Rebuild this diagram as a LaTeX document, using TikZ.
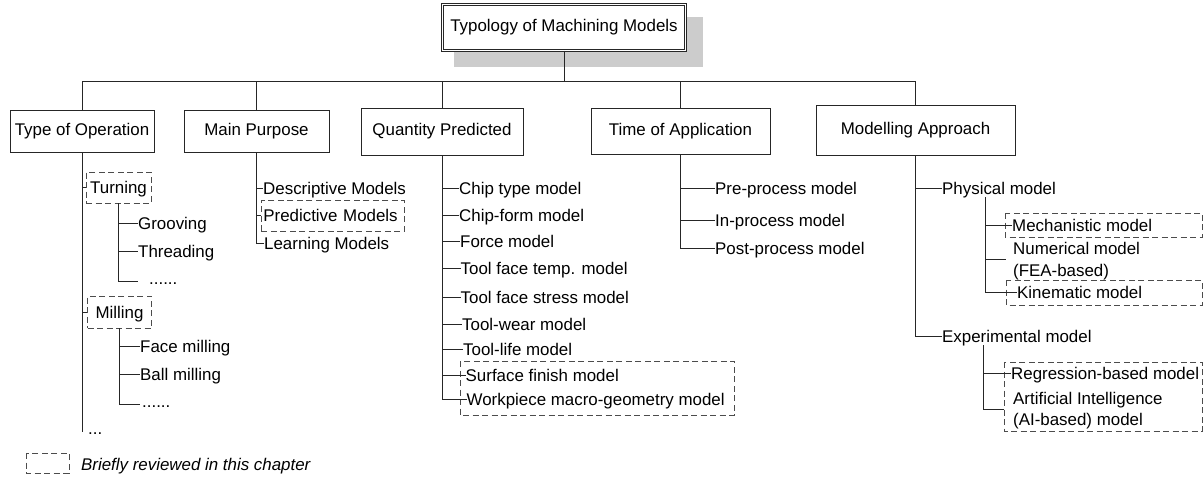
\documentclass[tikz,border=0pt]{standalone}
\usepackage{fontspec}
\setmainfont{Liberation Sans}
\begin{document}
\begin{tikzpicture}[x=1pt,y=-1pt,
  every node/.style={font=\fontsize{16.9}{21}\selectfont, text=black},
  ln/.style={line width=0.9pt, draw=black!85},
  box/.style={draw=black!85, line width=0.9pt, fill=white, rectangle, inner sep=0pt},
  leaf/.style={anchor=west, inner sep=0pt, text height=12pt, text depth=0pt, align=left},
  mleaf/.style={anchor=base west, inner sep=0pt, align=left},
  dnode/.style={draw=black!70, line width=0.8pt, dash pattern=on 6pt off 3.5pt, rectangle, inner sep=0pt, text height=12pt, text depth=0pt},
  dbox/.style={draw=black!70, line width=0.8pt, dash pattern=on 6pt off 3.5pt},
]
\useasboundingbox (0,0) rectangle (1203,479);

% title with shadow
\fill[black!20] (454,17) rectangle (703,67);
\node[box, double, double distance=1.6pt, line width=0.8pt, minimum width=242.8pt, minimum height=45.8pt] (title) at (564,27.5) {Typology of Machining Models};

% first level
\node[box, minimum width=144pt, minimum height=42pt] (op) at (82,131) {Type of Operation};
\node[box, minimum width=145pt, minimum height=42pt] (purpose) at (256.5,131) {Main Purpose};
\node[box, minimum width=162pt, minimum height=47pt] (quantity) at (442,131.5) {Quantity Predicted};
\node[box, minimum width=179pt, minimum height=46pt] (time) at (680.5,131) {Time of Application};
\node[box, minimum width=199pt, minimum height=50pt] (approach) at (915.5,130) {Modelling Approach};

\coordinate (bus) at (564,81);
\draw[ln] (title.south) -- (bus);
\foreach \n in {op,purpose,quantity,time,approach} \draw[ln] (\n.north) |- (bus);

% Type of Operation
\node[dnode, minimum width=65pt, minimum height=31pt] (turning) at (118.5,187.5) {Turning};
\node[dnode, minimum width=64pt, minimum height=32pt] (milling) at (119.5,312) {Milling};
\node[leaf, anchor=base west] (opdots) at (88,434) {...};
\coordinate (opend) at (82,432);
\draw[ln] (op.south) -- (opend);
\draw[ln] (op.south) |- (turning.west);
\draw[ln] (op.south) |- (milling.west);

\node[leaf] (groove) at (138,223) {Grooving};
\node[leaf] (thread) at (138,251) {Threading};
\node[leaf, anchor=base west] (tdots) at (149,284) {......};
\coordinate (tend) at (138,281);
\draw[ln] (turning.south) |- (groove.west);
\draw[ln] (turning.south) |- (thread.west);
\draw[ln] (turning.south) |- (tend);

\node[leaf] (face) at (140,346) {Face milling};
\node[leaf] (ball) at (140,374) {Ball milling};
\node[leaf, anchor=base west] (mdots) at (142,407) {......};
\coordinate (mend) at (140,404);
\draw[ln] (milling.south) |- (face.west);
\draw[ln] (milling.south) |- (ball.west);
\draw[ln] (milling.south) |- (mend);

% Main Purpose
\node[leaf] (desc) at (263,188) {Descriptive Models};
\node[dnode, anchor=west, text width=139pt, inner xsep=2pt, align=left, minimum height=31pt] (pred) at (261,215.5) {Predictive Models};
\node[leaf] (learn) at (264,243) {Learning Models};
\foreach \n in {desc,pred,learn} \draw[ln] (purpose.south) |- (\n.west);

% Quantity Predicted
\node[leaf] (chip) at (459,188) {Chip type model};
\node[leaf] (chipform) at (459,215) {Chip-form model};
\node[leaf] (force) at (460,241) {Force model};
\node[leaf] (temp) at (460.5,268) {Tool face temp. model};
\node[leaf] (stress) at (460.5,297) {Tool face stress model};
\node[leaf] (wear) at (462,324) {Tool-wear model};
\node[leaf] (life) at (463,349) {Tool-life model};
\node[leaf] (surf) at (465.5,375) {Surface finish model};
\node[leaf] (work) at (466.5,399) {Workpiece macro-geometry model};
\draw[dbox] (460,361) rectangle (734,415);
\foreach \n in {chip,chipform,force,temp,stress,wear,life,surf,work} \draw[ln] (quantity.south) |- (\n.west);

% Time of Application
\node[leaf] (pre) at (715,188) {Pre-process model};
\node[leaf] (inp) at (715,220) {In-process model};
\node[leaf] (post) at (715,248) {Post-process model};
\foreach \n in {pre,inp,post} \draw[ln] (time.south) |- (\n.west);

% Modelling Approach
\node[leaf] (phys) at (942,188) {Physical model};
\node[leaf] (exper) at (942,336) {Experimental model};
\draw[ln] (approach.south) |- (phys.west);
\draw[ln] (approach.south) |- (exper.west);

\node[leaf] (mech) at (1012,225) {Mechanistic model};
\node[mleaf, font=\fontsize{16.9}{22}\selectfont] (num) at (1013,276) {Numerical model\\(FEA-based)};
\node[leaf] (kin) at (1017,292) {Kinematic model};
\draw[dbox] (1005,213) rectangle (1202,237);
\draw[dbox] (1006,280) rectangle (1202,305);
\coordinate (pv) at (985,197);
\draw[ln] (pv) |- (mech.west);
\draw[ln] (pv) |- ([xshift=-7pt,yshift=17pt]num.base west);
\draw[ln] (pv) |- (kin.west);

\node[leaf] (reg) at (1011,373) {Regression-based model};
\node[mleaf, font=\fontsize{16.9}{20.5}\selectfont] (ai) at (1013,425) {Artificial Intelligence\\(AI-based) model};
\draw[dbox] (1004,362) rectangle (1202,431);
\coordinate (ev) at (983,345);
\draw[ln] (ev) |- (reg.west);
\draw[ln] (ev) |- ([xshift=-9pt,yshift=16pt]ai.base west);

% legend
\draw[dbox] (26,453) rectangle (69,473);
\node[leaf, font=\fontsize{16.9}{21}\selectfont\itshape] (legend) at (81,464) {Briefly reviewed in this chapter};
\end{tikzpicture}
\end{document}
